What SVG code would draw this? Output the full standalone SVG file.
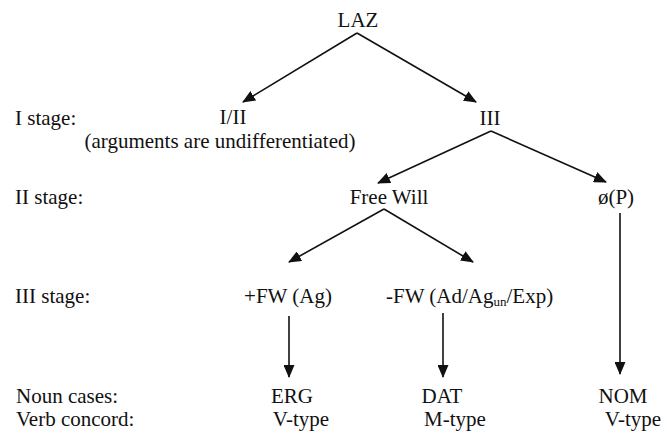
<svg xmlns="http://www.w3.org/2000/svg" width="667" height="434" viewBox="0 0 667 434">
<style>
text{font-family:"Liberation Serif","Times New Roman",serif;font-size:21px;fill:#111}
.c{text-anchor:middle}
.edge{stroke:#111;stroke-width:1.6;fill:none;marker-end:url(#ah)}
</style>
<defs>
<marker id="ah" markerUnits="userSpaceOnUse" markerWidth="13" markerHeight="11" refX="12" refY="5.5" orient="auto">
<path d="M0,0 L13,5.5 L0,11 z" fill="#111"/>
</marker>
</defs>
<rect width="667" height="434" fill="#fff"/>
<g id="labels">
<text x="15" y="125">I stage:</text>
<text x="15" y="204">II stage:</text>
<text x="15" y="303">III stage:</text>
<text x="16" y="403">Noun cases:</text>
<text x="16" y="426">Verb concord:</text>
</g>
<g id="connectors">
<line class="edge" x1="357" y1="33" x2="243" y2="102"/>
<line class="edge" x1="357" y1="33" x2="476" y2="102"/>
<line class="edge" x1="491" y1="131" x2="378" y2="183"/>
<line class="edge" x1="491" y1="131" x2="606" y2="182"/>
<line class="edge" x1="384" y1="209" x2="289" y2="262"/>
<line class="edge" x1="384" y1="209" x2="473" y2="262"/>
<line class="edge" x1="620" y1="213" x2="620" y2="374"/>
<line class="edge" x1="289" y1="316" x2="289" y2="377"/>
<line class="edge" x1="443" y1="313" x2="443" y2="377"/>
</g>
<g id="laz"><text class="c" x="358" y="27">LAZ</text></g>
<g id="i-ii"><text class="c" x="233" y="124">I/II</text><text class="c" x="220" y="148">(arguments are undifferentiated)</text></g>
<g id="iii"><text class="c" x="490" y="125">III</text></g>
<g id="free-will"><text class="c" x="389" y="204">Free Will</text></g>
<g id="p"><text class="c" x="616" y="204">ø(P)</text></g>
<g id="plus-fw"><text class="c" x="288" y="303">+FW (Ag)</text></g>
<g id="minus-fw"><text x="386" y="303">-FW (Ad/Ag<tspan font-size="13" dy="3">un</tspan><tspan dy="-3">/Exp)</tspan></text></g>
<g id="erg"><text class="c" x="292" y="403">ERG</text><text class="c" x="301" y="426">V-type</text></g>
<g id="dat"><text class="c" x="442" y="403">DAT</text><text class="c" x="455" y="426">M-type</text></g>
<g id="nom"><text class="c" x="623" y="403">NOM</text><text class="c" x="633" y="426">V-type</text></g>
</svg>
